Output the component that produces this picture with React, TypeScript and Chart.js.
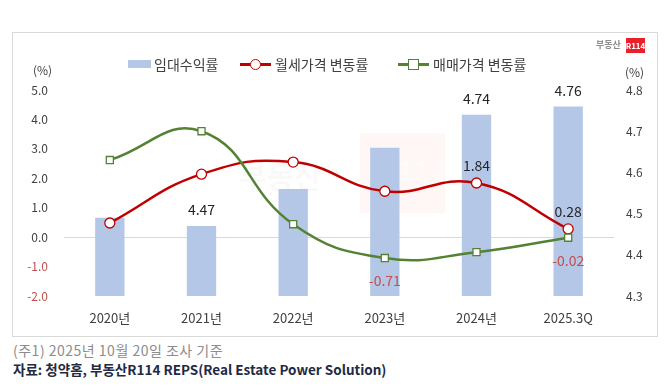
import React, { useEffect, useRef } from "react";
import { Chart, registerables } from "chart.js";

Chart.register(...registerables);

const categories = ["2020년", "2021년", "2022년", "2023년", "2024년", "2025.3Q"];
const rentalYield = [4.49, 4.47, 4.56, 4.66, 4.74, 4.76];
const monthlyRentChange = [0.48, 2.14, 2.55, 1.56, 1.84, 0.28];
const salePriceChange = [2.62, 3.6, 0.44, -0.71, -0.51, -0.02];

const yieldLabelIdx = [1, 4, 5];
const rentLabelIdx = [4, 5];
const saleLabelIdx = [3, 5];

const FONT = "'Noto Sans CJK KR', 'Noto Sans', sans-serif";
const BAR_COLOR = "#b4c7e7";
const RED = "#c00000";
const GREEN = "#548235";
const NEG = "#c0504d";

const labelPlugin = {
  id: "valueLabels",
  afterDatasetsDraw(chart: any) {
    const ctx = chart.ctx;
    ctx.save();
    ctx.font = `14px ${FONT}`;
    ctx.textAlign = "center";
    ctx.textBaseline = "middle";
    const m0 = chart.getDatasetMeta(0);
    ctx.fillStyle = "#262626";
    yieldLabelIdx.forEach((i) => {
      const el = m0.data[i];
      ctx.fillText(rentalYield[i].toFixed(2), el.x, el.y - 16);
    });
    const m1 = chart.getDatasetMeta(1);
    rentLabelIdx.forEach((i) => {
      const el = m1.data[i];
      ctx.fillStyle = monthlyRentChange[i] < 0 ? NEG : "#262626";
      ctx.fillText(monthlyRentChange[i].toFixed(2), el.x, el.y - 17);
    });
    const m2 = chart.getDatasetMeta(2);
    saleLabelIdx.forEach((i) => {
      const el = m2.data[i];
      ctx.fillStyle = salePriceChange[i] < 0 ? NEG : "#262626";
      ctx.fillText(salePriceChange[i].toFixed(2), el.x, el.y + 23);
    });
    ctx.restore();
  },
};

export default function App() {
  const ref = useRef<HTMLCanvasElement | null>(null);

  useEffect(() => {
    if (!ref.current) return;
    const chart = new Chart(ref.current, {
      type: "bar",
      data: {
        labels: categories,
        datasets: [
          {
            type: "bar",
            label: "임대수익률",
            data: rentalYield,
            yAxisID: "y2",
            backgroundColor: BAR_COLOR,
            categoryPercentage: 1,
            barPercentage: 0.32,
            order: 2,
          } as any,
          {
            type: "line",
            label: "월세가격 변동률",
            data: monthlyRentChange,
            yAxisID: "y",
            borderColor: RED,
            borderWidth: 2.5,
            tension: 0.45,
            pointStyle: "circle",
            pointRadius: 5,
            pointBackgroundColor: "#ffffff",
            pointBorderColor: RED,
            pointBorderWidth: 1.3,
            order: 1,
          },
          {
            type: "line",
            label: "매매가격 변동률",
            data: salePriceChange,
            yAxisID: "y",
            borderColor: GREEN,
            borderWidth: 2.5,
            tension: 0.45,
            pointStyle: "rect",
            pointRadius: 5,
            pointBackgroundColor: "#ffffff",
            pointBorderColor: GREEN,
            pointBorderWidth: 1.3,
            order: 0,
          },
        ],
      },
      options: {
        responsive: false,
        animation: false,
        layout: { padding: { top: 57, left: 0, right: 0, bottom: 0 } },
        plugins: {
          legend: { display: false },
          tooltip: { enabled: false },
        },
        scales: {
          x: {
            grid: { display: false, drawTicks: false },
            border: { display: false },
            ticks: { font: { family: FONT, size: 13 }, color: "#404040", padding: 14 },
            afterFit: (s: any) => {
              s.height = 40;
            },
          },
          y: {
            position: "left",
            min: -2,
            max: 5,
            ticks: {
              stepSize: 1,
              padding: 16,
              font: { family: FONT, size: 12 },
              color: (c: any) => (c.tick && c.tick.value < 0 ? NEG : "#404040"),
              callback: (v: any) => Number(v).toFixed(1),
            },
            grid: {
              drawTicks: false,
              color: (c: any) => (c.tick && c.tick.value === 0 ? "#d9d9d9" : "rgba(0,0,0,0)"),
            },
            border: { display: false },
            afterFit: (s: any) => {
              s.width = 51;
            },
          },
          y2: {
            position: "right",
            min: 4.3,
            max: 4.8,
            ticks: {
              stepSize: 0.1,
              padding: 12,
              font: { family: FONT, size: 12 },
              color: "#404040",
              callback: (v: any) => Number(v).toFixed(1),
            },
            grid: { display: false, drawTicks: false },
            border: { display: false },
            afterFit: (s: any) => {
              s.width = 43;
            },
          },
        },
      } as any,
      plugins: [labelPlugin],
    });
    return () => chart.destroy();
  }, []);

  const txt: React.CSSProperties = {
    position: "absolute",
    fontFamily: FONT,
    whiteSpace: "nowrap",
    lineHeight: "1",
  };

  return (
    <div
      style={{
        position: "absolute",
        left: 0,
        top: 0,
        width: 670,
        height: 387,
        background: "#ffffff",
        overflow: "hidden",
      }}
    >
      <div
        style={{
          position: "absolute",
          left: 12,
          top: 32,
          width: 646,
          height: 305,
          boxSizing: "border-box",
          border: "1px solid #d9d9d9",
        }}
      >
        {/* faint watermark */}
        <div
          style={{
            position: "absolute",
            left: 347,
            top: 100,
            width: 85,
            height: 80,
            background: "rgba(255,200,200,0.16)",
          }}
        />
        <div
          style={{
            ...txt,
            left: 365,
            top: 122,
            fontSize: 28,
            fontWeight: 700,
            color: "rgba(255,255,255,0.5)",
          }}
        >
          R114
        </div>
        <div
          style={{
            ...txt,
            left: 226,
            top: 127,
            fontSize: 30,
            fontWeight: 700,
            color: "rgba(200,200,200,0.1)",
          }}
        >
          부동산
        </div>
        <canvas
          ref={ref}
          width={644}
          height={303}
          style={{ position: "absolute", left: 0, top: 0, width: 644, height: 303, display: "block" }}
        />
      </div>

      {/* logo */}
      <div style={{ ...txt, left: 596, top: 40, fontSize: 9, color: "#8c8c8c", fontWeight: 700 }}>부동산</div>
      <div
        style={{
          ...txt,
          left: 626,
          top: 38,
          width: 19,
          height: 15,
          background: "#e8202a",
          color: "#ffffff",
          fontSize: 8,
          fontWeight: 700,
          display: "flex",
          alignItems: "center",
          justifyContent: "center",
        }}
      >
        R114
      </div>

      {/* axis unit labels */}
      <div style={{ ...txt, left: 33, top: 64, fontSize: 12, color: "#404040" }}>(%)</div>
      <div style={{ ...txt, left: 625, top: 66, fontSize: 12, color: "#404040" }}>(%)</div>

      {/* legend */}
      <div style={{ position: "absolute", left: 128, top: 60, width: 23, height: 8, background: BAR_COLOR }} />
      <div style={{ ...txt, left: 154, top: 57, fontSize: 14, color: "#404040" }}>임대수익률</div>

      <div style={{ position: "absolute", left: 240, top: 63, width: 31, height: 3, background: RED }} />
      <div
        style={{
          position: "absolute",
          left: 250,
          top: 59,
          width: 9,
          height: 9,
          borderRadius: "50%",
          border: `1.5px solid ${RED}`,
          background: "#fff",
        }}
      />
      <div style={{ ...txt, left: 275, top: 57, fontSize: 14, color: "#404040" }}>월세가격 변동률</div>

      <div style={{ position: "absolute", left: 398, top: 63, width: 31, height: 3, background: GREEN }} />
      <div
        style={{
          position: "absolute",
          left: 408,
          top: 59,
          width: 9,
          height: 9,
          border: `1.5px solid ${GREEN}`,
          background: "#fff",
        }}
      />
      <div style={{ ...txt, left: 433, top: 57, fontSize: 14, color: "#404040" }}>매매가격 변동률</div>

      {/* footnotes */}
      <div style={{ ...txt, left: 13, top: 343, fontSize: 14, letterSpacing: "0.5px", color: "#8c8c8c" }}>
        (주1) 2025년 10월 20일 조사 기준
      </div>
      <div style={{ ...txt, left: 13, top: 363, fontSize: 13.5, color: "#1f2a44", fontWeight: 700 }}>
        자료: 청약홈, 부동산R114 REPS(Real Estate Power Solution)
      </div>
    </div>
  );
}
